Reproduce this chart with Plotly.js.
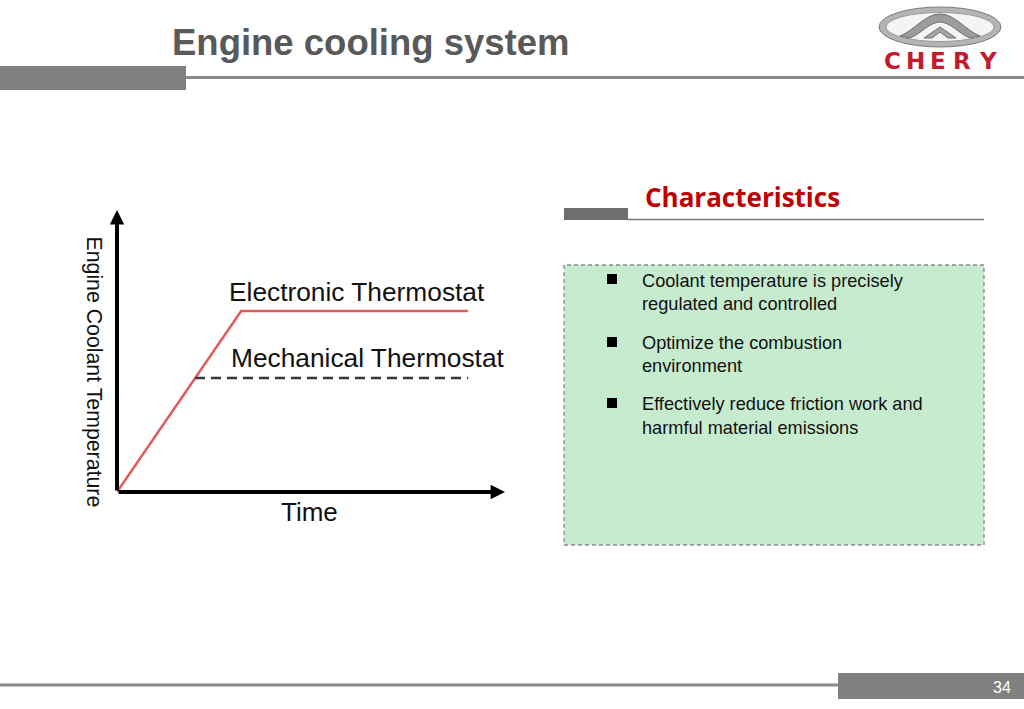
<!DOCTYPE html>
<html>
<head>
<meta charset="utf-8">
<script src="https://cdn.plot.ly/plotly-3.0.1.min.js"></script>
<style>html,body{margin:0;padding:0;background:#fff;}#chart{width:1024px;height:709px;}</style>
</head>
<body>
<div id="chart"></div>
<script>
// ---- data ----
const electronicTime = [0, 3.2, 9.05];
const electronicTemp = [0, 6.42, 6.42];
const mechanicalTime = [2.01, 9.05];
const mechanicalTemp = [4.04, 4.04];
const seriesNames = ["Electronic Thermostat", "Mechanical Thermostat"];
const xAxisLabel = "Time";
const yAxisLabel = "Engine Coolant Temperature";
const slideTitle = "Engine cooling system";
const sectionTitle = "Characteristics";
const bulletLines = [
  ["Coolant temperature is precisely", "regulated and controlled"],
  ["Optimize the combustion", "environment"],
  ["Effectively reduce friction work and", "harmful material emissions"]
];
const pageNumber = "34";

// ---- helpers (pixel -> paper) ----
const W = 1024, H = 709;
const px = x => x / W;
const py = y => 1 - y / H;
function rect(x0, y0, x1, y1, fill, line) {
  return {type: 'rect', xref: 'paper', yref: 'paper', x0: px(x0), x1: px(x1), y0: py(y1), y1: py(y0),
    fillcolor: fill, line: line || {width: 0}, layer: 'below'};
}
function hline(x0, x1, y, color, width) {
  return {type: 'line', xref: 'paper', yref: 'paper', x0: px(x0), x1: px(x1), y0: py(y), y1: py(y),
    line: {color: color, width: width}, layer: 'below'};
}
function pathPx(pts, fill, line) {
  let d = pts.map(p => (typeof p === 'string') ? p : (px(p[0]).toFixed(5) + ',' + py(p[1]).toFixed(5))).join(' ');
  return {type: 'path', xref: 'paper', yref: 'paper', path: d, fillcolor: fill, line: line || {width: 0}};
}
function txt(text, x, y, size, color, opts) {
  return Object.assign({text: text, xref: 'paper', yref: 'paper', x: px(x), y: py(y), showarrow: false,
    xanchor: 'left', yanchor: 'middle', font: {family: 'Liberation Sans, Arial, sans-serif', size: size, color: color}}, opts || {});
}

const shapes = [];
// header
shapes.push(rect(0, 66, 186, 90, '#808080'));
shapes.push(hline(186, 1024, 77.5, '#8a8a8a', 3));
// footer
shapes.push(hline(0, 838, 685, '#8a8a8a', 3));
shapes.push(rect(838, 673, 1024, 699, '#808080'));
// characteristics header
shapes.push(rect(564, 208, 628, 220, '#6e6e6e'));
shapes.push(hline(628, 984, 219.5, '#7a7a7a', 1.5));
// green box
shapes.push({type: 'rect', xref: 'paper', yref: 'paper', x0: px(564), x1: px(984), y0: py(545), y1: py(265),
  fillcolor: '#c7ebcf', line: {color: '#8c8c8c', width: 1.3, dash: '4px,3px'}, layer: 'below'});
// bullets
[[274, 284], [337, 347], [398, 408]].forEach(b => shapes.push(rect(607, b[0], 617, b[1], '#000000')));
// logo emblem
shapes.push({type: 'circle', xref: 'paper', yref: 'paper', x0: px(879), x1: px(1001), y0: py(47), y1: py(7),
  fillcolor: '#b4b4b4', line: {color: '#7c7c7c', width: 1}});
shapes.push({type: 'circle', xref: 'paper', yref: 'paper', x0: px(886), x1: px(994), y0: py(41.5), y1: py(12.5),
  fillcolor: '#f4f4f4', line: {color: '#9a9a9a', width: 1}});
shapes.push(pathPx(['M', [900, 36], 'C', [915, 30], [925, 14], [940, 14], 'C', [955, 14], [965, 30], [980, 36],
  'L', [970, 38], 'C', [958, 33], [950, 22], [940, 22], 'C', [930, 22], [922, 33], [910, 38], 'Z'],
  '#9c9c9c', {color: '#6f6f6f', width: 1}));
shapes.push(pathPx(['M', [924, 38], 'L', [940, 27], 'L', [956, 38], 'L', [948, 38], 'L', [940, 32], 'L', [932, 38], 'Z'],
  '#a5a5a5', {color: '#707070', width: 1}));

const annotations = [];
annotations.push(txt('<b>' + slideTitle + '</b>', 170, 42, 36.5, '#595959'));
annotations.push(txt(sectionTitle, 643, 197, 26, '#c00000', {font: {family: 'Open Sans, sans-serif', size: 26, color: '#c00000', weight: 700}}));
const lineY = [[281, 304], [343, 366], [404, 428]];
bulletLines.forEach((ls, i) => ls.forEach((l, j) => annotations.push(txt(l, 640, lineY[i][j], 18.2, '#111111'))));
annotations.push(txt(pageNumber, 1013, 687, 16, '#ffffff', {xanchor: 'right'}));
// CHERY letters
const logoLetters = ['C', 'H', 'E', 'R', 'Y'];
const letterX = [892, 915, 938, 962, 988];
logoLetters.forEach((c, i) => annotations.push(txt('<b>' + c + '</b>', letterX[i], 61.5, 23, '#c31a2e',
  {xanchor: 'center', font: {family: 'DejaVu Sans, sans-serif', size: 23, color: '#c31a2e'}})));

// chart labels
annotations.push(txt(seriesNames[0], 227, 292, 26.3, '#111111'));
annotations.push(txt(seriesNames[1], 229, 358, 26.3, '#111111'));
annotations.push(txt(xAxisLabel, 309.5, 512, 26, '#111111', {xanchor: 'center'}));
annotations.push(txt(yAxisLabel, 94, 371.5, 21.3, '#111111', {xanchor: 'center', textangle: 90}));
// axis arrows
annotations.push({x: 10, y: 0, ax: 0, ay: 0, xref: 'x', yref: 'y', axref: 'x', ayref: 'y', text: '',
  showarrow: true, arrowhead: 2, arrowsize: 0.72, arrowwidth: 4, arrowcolor: '#000000'});
annotations.push({x: 0, y: 10, ax: 0, ay: 0, xref: 'x', yref: 'y', axref: 'x', ayref: 'y', text: '',
  showarrow: true, arrowhead: 2, arrowsize: 0.72, arrowwidth: 4, arrowcolor: '#000000'});

const traces = [
  {x: electronicTime, y: electronicTemp, name: seriesNames[0], type: 'scatter', mode: 'lines',
   line: {color: '#e05c5c', width: 2.5}, hoverinfo: 'skip'},
  {x: mechanicalTime, y: mechanicalTemp, name: seriesNames[1], type: 'scatter', mode: 'lines',
   line: {color: '#3a3a3a', width: 2.5, dash: '10px,6px'}, hoverinfo: 'skip'}
];

const layout = {
  width: W, height: H, autosize: false,
  margin: {l: 0, r: 0, t: 0, b: 0, pad: 0},
  paper_bgcolor: '#ffffff', plot_bgcolor: 'rgba(0,0,0,0)',
  showlegend: false,
  xaxis: {domain: [px(117), px(505)], range: [0, 10], showgrid: false, zeroline: false, showticklabels: false,
    ticks: '', showline: false, fixedrange: true},
  yaxis: {domain: [py(492), py(210)], range: [0, 10], showgrid: false, zeroline: false, showticklabels: false,
    ticks: '', showline: false, fixedrange: true},
  shapes: shapes,
  annotations: annotations
};

Plotly.newPlot('chart', traces, layout, {staticPlot: true, displayModeBar: false});
</script>
</body>
</html>
